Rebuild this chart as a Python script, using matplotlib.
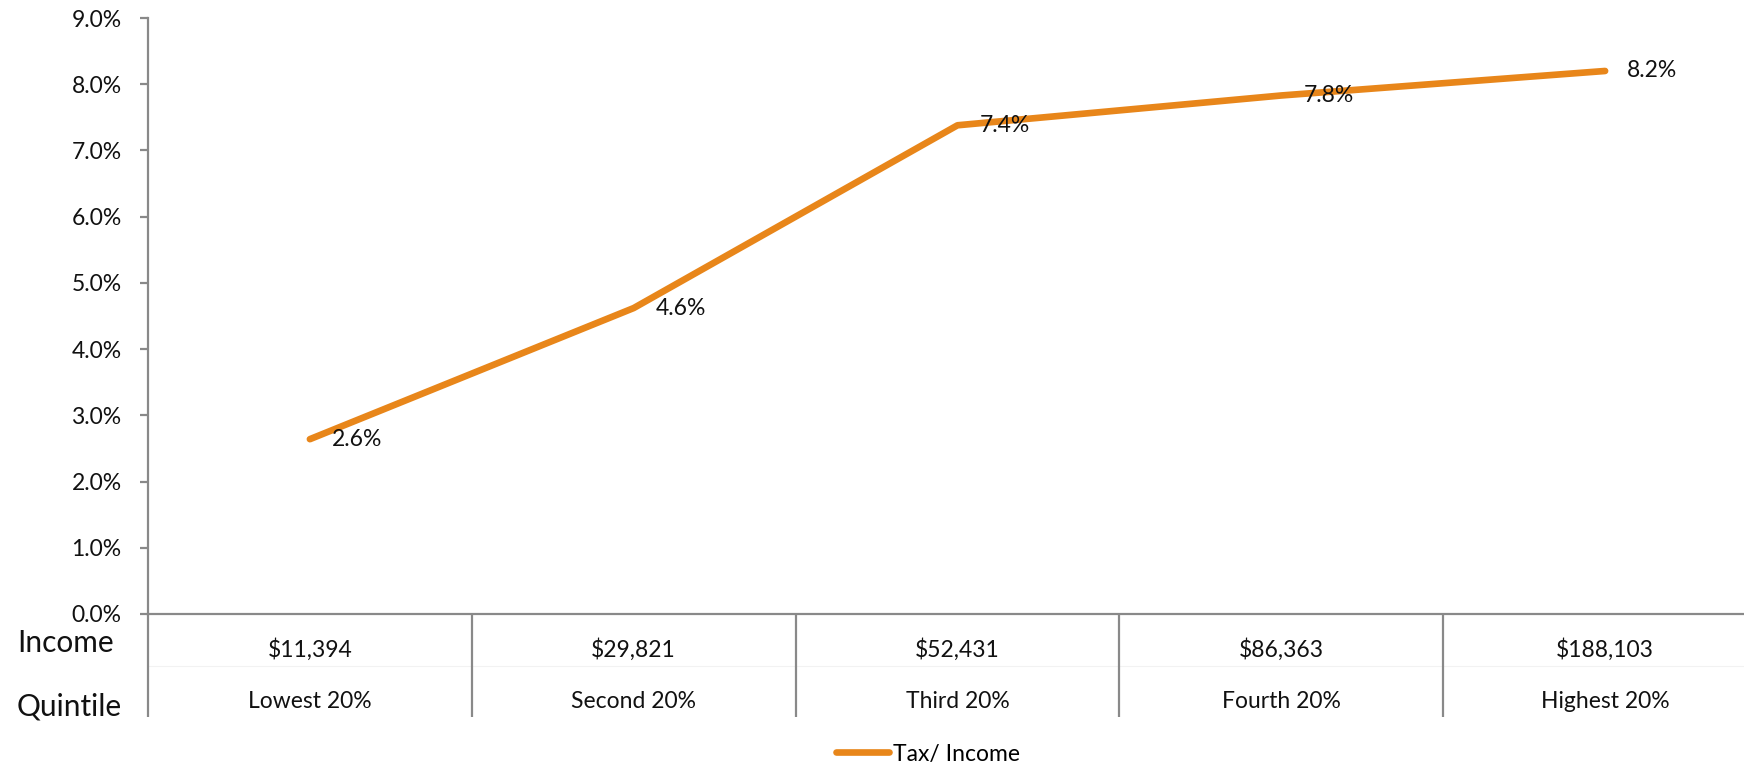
import matplotlib
matplotlib.use("Agg")
import matplotlib.pyplot as plt
from matplotlib.ticker import PercentFormatter

categories = ["Lowest 20%", "Second 20%", "Third 20%", "Fourth 20%", "Highest 20%"]
incomes = ["$11,394", "$29,821", "$52,431", "$86,363", "$188,103"]
tax_share = [2.64, 4.62, 7.38, 7.83, 8.20]
value_labels = ["2.6%", "4.6%", "7.4%", "7.8%", "8.2%"]
y_ticks = [0, 1, 2, 3, 4, 5, 6, 7, 8, 9]
series_name = "Tax/ Income"

plt.rcParams['font.family'] = ['Lato', 'DejaVu Sans']
W, H = 1744, 768
fig = plt.figure(figsize=(W / 100, H / 100), dpi=100)

ax_left, ax_right = 148, 1767
ax_top, ax_bot = 18, 614
ax = fig.add_axes([ax_left / W, 1 - ax_bot / H, (ax_right - ax_left) / W, (ax_bot - ax_top) / H])

orange = '#E8861A'
grey = '#898989'
txt = '#111111'
fs = 16.5
x = list(range(len(categories)))
line, = ax.plot(x, tax_share, color=orange, lw=4.8, solid_capstyle='round',
                solid_joinstyle='round', label=series_name, zorder=3)

for xi, yi, lab in zip(x, tax_share, value_labels):
    ax.annotate(lab, (xi, yi), xytext=(16, 0), textcoords='offset points',
                ha='left', va='center', fontsize=fs, color=txt, zorder=4)

ax.set_xlim(-0.5, len(categories) - 0.5)
ax.set_ylim(0, 9)
ax.set_yticks(y_ticks)
ax.yaxis.set_major_formatter(PercentFormatter(decimals=1))
ax.set_xticks([])
for s in ['top', 'right']:
    ax.spines[s].set_visible(False)
for s in ['left', 'bottom']:
    ax.spines[s].set_color(grey)
    ax.spines[s].set_linewidth(1.6)
ax.tick_params(axis='y', direction='out', length=6, width=1.6, color=grey,
               labelsize=fs, labelcolor=txt, pad=13)

# Category table below the axis
axis_h = ax_bot - ax_top
def yfrac(py):
    return -(py - ax_bot) / axis_h

tbl_bottom = yfrac(717)
xt = ax.get_xaxis_transform()
ax.vlines([-0.5] + [i + 0.5 for i in range(len(categories) - 1)], tbl_bottom, 0,
          transform=xt, colors=grey, lw=1.6, clip_on=False)
ax.hlines(yfrac(666), -0.5, len(categories) - 0.5, transform=xt, colors='#F2F2F2',
          lw=0.8, clip_on=False, zorder=0)
for xi, inc, cat in zip(x, incomes, categories):
    ax.text(xi, yfrac(657), inc, transform=xt, ha='center', va='baseline',
            fontsize=fs, color=txt)
    ax.text(xi, yfrac(708), cat, transform=xt, ha='center', va='baseline',
            fontsize=fs, color=txt)

fig.text(17 / W, 1 - 652 / H, "Income", ha='left', va='baseline', fontsize=21.5, color=txt)
fig.text(17 / W, 1 - 715 / H, "Quintile", ha='left', va='baseline', fontsize=21.5, color=txt)

fig.legend(handles=[line], labels=[series_name], loc='center',
           bbox_to_anchor=(928 / W, 1 - 754 / H), frameon=False, fontsize=fs,
           handlelength=2.3, handletextpad=0.2, borderpad=0, borderaxespad=0)

fig.savefig("out.png", dpi=100)
